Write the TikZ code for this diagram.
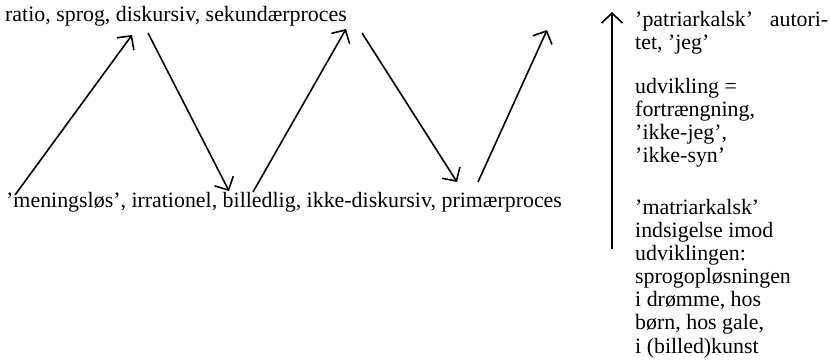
\documentclass[tikz,border=0pt]{standalone}
\usepackage{fontspec}
\setmainfont{Liberation Serif}
\usetikzlibrary{arrows.meta}
\begin{document}
\begin{tikzpicture}[x=1pt,y=-1pt,
  txt/.style={anchor=base west,inner sep=0pt,font=\fontsize{21.9}{23.3}\selectfont},
  arr/.style={line width=1.6pt,-{Straight Barb[length=10pt,width=21pt]}}]
\useasboundingbox (0,0) rectangle (830,363);
% main rows
\node[txt] (top) at (5,22) {ratio, sprog, diskursiv, sekundærproces};
\node[txt] (bot) at (6,208) {'meningsløs', irrationel, billedlig, ikke-diskursiv, primærproces};
% zigzag points
\coordinate (b1) at (15,195);  \coordinate (t1) at (132,35);
\coordinate (t2) at (148,33);  \coordinate (b2) at (229,191);
\coordinate (b3) at (253,192); \coordinate (t3) at (346,29);
\coordinate (t4) at (362,33);  \coordinate (b4) at (457,182);
\coordinate (b5) at (478,182); \coordinate (t5) at (547,30);
\draw[arr] (b1) -- (t1);
\draw[arr] (t2) -- (b2);
\draw[arr] (b3) -- (t3);
\draw[arr] (t4) -- (b4);
\draw[arr] (b5) -- (t5);
% vertical arrow
\coordinate (v0) at (612,249); \coordinate (v1) at (612,12);
\draw[arr] (v0) -- (v1);
% right column
\node[txt,text width=193pt] (r1) at (635,27) {'patriarkalsk'\hfill autori-};
\node[txt] (r2) at (635,50) {tet, 'jeg'};
\node[txt] (r3) at (635,94) {udvikling =};
\node[txt] (r4) at (635,117) {fortrængning,};
\node[txt] (r5) at (635,140) {'ikke-jeg',};
\node[txt] (r6) at (635,163) {'ikke-syn'};
\node[txt] (r7) at (635,215) {'matriarkalsk'};
\node[txt] (r8) at (635,238) {indsigelse imod};
\node[txt] (r9) at (635,261) {udviklingen:};
\node[txt] (r10) at (635,284) {sprogopløsningen};
\node[txt] (r11) at (635,307) {i drømme, hos};
\node[txt] (r12) at (635,330) {børn, hos gale,};
\node[txt] (r13) at (635,353) {i (billed)kunst};
\end{tikzpicture}
\end{document}
